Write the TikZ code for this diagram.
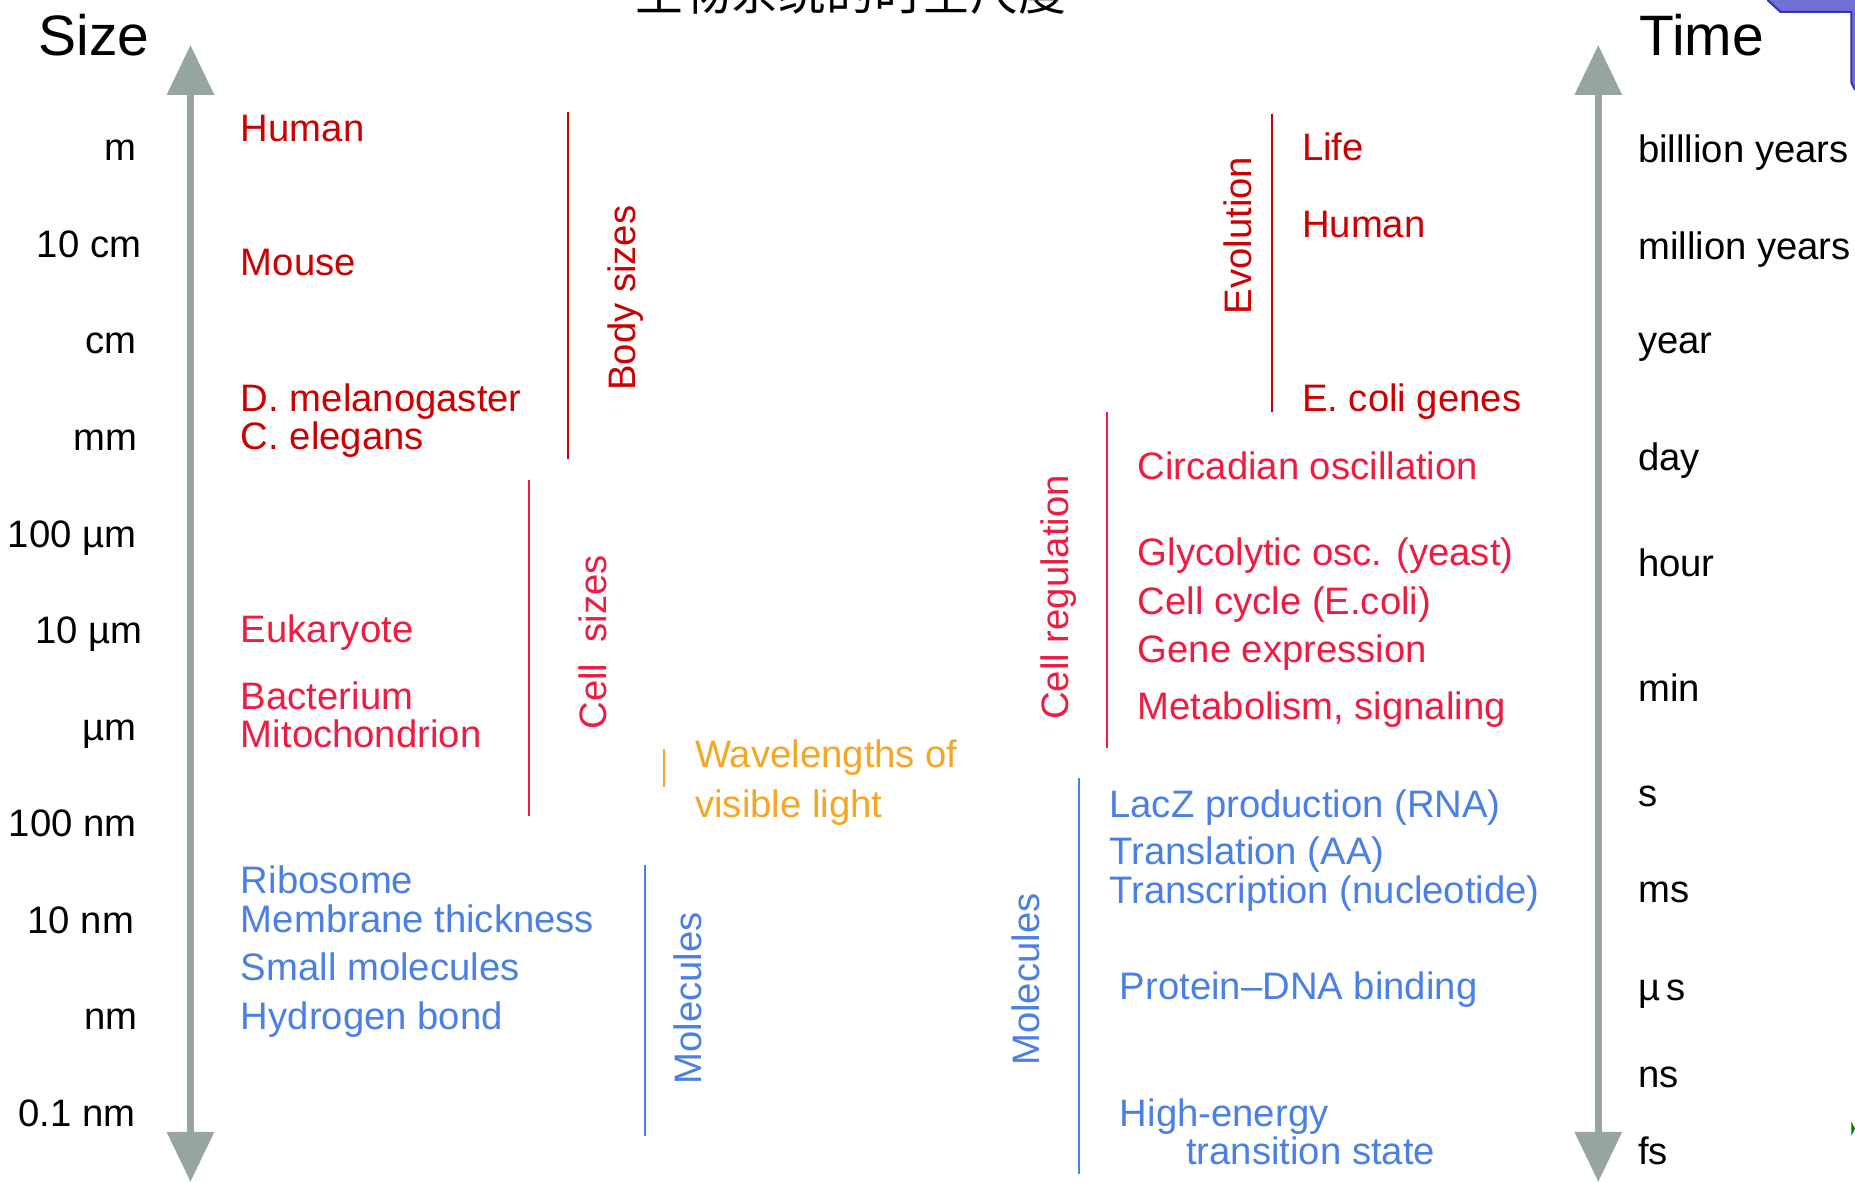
\documentclass[tikz,border=0pt]{standalone}
\usepackage{fontspec}
\setmainfont{Liberation Sans}
\newfontfamily\cjkfont{Noto Sans CJK SC}
\usetikzlibrary{arrows.meta}
\definecolor{bodyred}{RGB}{204,0,0}
\definecolor{cellred}{RGB}{238,28,64}
\definecolor{molblue}{RGB}{74,128,230}
\definecolor{lightorange}{RGB}{245,166,35}
\definecolor{axisgray}{RGB}{150,165,162}
\definecolor{cornerpurple}{RGB}{112,112,214}
\definecolor{cornerblue}{RGB}{50,50,190}

\begin{document}
\begin{tikzpicture}[x=0.01cm, y=0.01cm]
	\tikzstyle{every node}+=[inner sep=0pt, font=\fontsize{9.2}{11}\selectfont]
	\tikzstyle{item}=[anchor=base west]
	\tikzstyle{ticklabel}=[anchor=base east]
	\tikzstyle{grouplabel}=[anchor=base, rotate=90]
	\tikzstyle{bigtitle}=[anchor=base west, font=\fontsize{13.7}{16}\selectfont]
	\tikzstyle{scalearrow}=[draw=axisgray, line width=1.7pt, {Triangle[length=12pt,width=11pt]}-{Triangle[length=12pt,width=11pt]}]
	\tikzstyle{groupbar}=[line width=0.45pt]
	\useasboundingbox (0,0) rectangle (1568,-999);
	% title, cut by the page edge
	\draw (719,-9) node[anchor=base, font=\cjkfont\fontsize{11.5}{12}\selectfont] (title) {生物系统的时空尺度};
	% corner marks of the slide
	\fill[cornerpurple] (1494,0) -- (1505,-10) -- (1565,-10) -- (1565,-70) -- (1568,-76) -- (1568,0) -- cycle;
	\draw[cornerblue, line width=0.5pt] (1494,0) -- (1505,-10) -- (1565,-10) -- (1565,-70) -- (1568,-76);
	\fill[green!50!black] (1565,-948) -- (1568,-954) -- (1565,-960) -- cycle;
	% size axis
	\coordinate (sizetop) at (161,-38);
	\coordinate (sizebot) at (161,-999);
	\draw[scalearrow] (sizebot) -- (sizetop);
	\draw (32,-47) node[bigtitle] (size) {Size};
	\draw (116,-136) node[ticklabel] (sm) {m};
	\draw (120,-217.6) node[ticklabel] (s10cm) {10 cm};
	\draw (116,-299.2) node[ticklabel] (scm) {cm};
	\draw (117,-380.8) node[ticklabel] (smm) {mm};
	\draw (116,-462.4) node[ticklabel] (s100um) {100 µm};
	\draw (121,-544) node[ticklabel] (s10um) {10 µm};
	\draw (116,-625.6) node[ticklabel] (sum) {µm};
	\draw (116,-707.2) node[ticklabel] (s100nm) {100 nm};
	\draw (114,-788.8) node[ticklabel] (s10nm) {10 nm};
	\draw (117,-870.4) node[ticklabel] (snm) {nm};
	\draw (115,-952) node[ticklabel] (s01nm) {0.1 nm};
	% time axis
	\coordinate (timetop) at (1351,-38);
	\coordinate (timebot) at (1351,-999);
	\draw[scalearrow] (timebot) -- (timetop);
	\draw (1385,-47) node[bigtitle] (time) {Time};
	\draw (1384,-137) node[item] (tbil) {billlion years};
	\draw (1384,-219) node[item] (tmil) {million years};
	\draw (1384,-299) node[item] (tyear) {year};
	\draw (1384,-398) node[item] (tday) {day};
	\draw (1384,-487) node[item] (thour) {hour};
	\draw (1384,-593) node[item] (tmin) {min};
	\draw (1384,-682) node[item] (ts) {s};
	\draw (1384,-763) node[item] (tms) {ms};
	\draw (1384,-846) node[item] (tus) {µ\,s};
	\draw (1384,-919) node[item] (tns) {ns};
	\draw (1384,-984) node[item] (tfs) {fs};
	% body sizes
	\draw (203,-119.5) node[item, text=bodyred] (human) {Human};
	\draw (203,-233) node[item, text=bodyred] (mouse) {Mouse};
	\draw (203,-348) node[item, text=bodyred] (fly) {D. melanogaster};
	\draw (203,-380) node[item, text=bodyred] (worm) {C. elegans};
	\coordinate (bodytop) at (480,-95);
	\coordinate (bodybot) at (480,-388);
	\draw[groupbar, bodyred] (bodytop) -- (bodybot);
	\draw (537,-252) node[grouplabel, text=bodyred] (body) {Body sizes};
	% cell sizes
	\draw (203,-543) node[item, text=cellred] (euk) {Eukaryote};
	\draw (203,-600) node[item, text=cellred] (bact) {Bacterium};
	\draw (203,-632) node[item, text=cellred] (mito) {Mitochondrion};
	\coordinate (celltop) at (447,-406);
	\coordinate (cellbot) at (447,-690);
	\draw[groupbar, cellred] (celltop) -- (cellbot);
	\draw (513,-543) node[grouplabel, text=cellred] (cell) {Cell\ \ sizes};
	% visible light
	\coordinate (lighttop) at (561,-633);
	\coordinate (lightbot) at (561,-665);
	\draw[groupbar, lightorange] (lighttop) -- (lightbot);
	\draw (587,-649) node[item, text=lightorange] (wave) {Wavelengths of};
	\draw (587,-691) node[item, text=lightorange] (vis) {visible light};
	% molecules, size side
	\draw (203,-755) node[item, text=molblue] (ribo) {Ribosome};
	\draw (203,-788) node[item, text=molblue] (memb) {Membrane thickness};
	\draw (203,-829) node[item, text=molblue] (small) {Small molecules};
	\draw (203,-870) node[item, text=molblue] (hbond) {Hydrogen bond};
	\coordinate (moltop) at (545,-731);
	\coordinate (molbot) at (545,-960);
	\draw[groupbar, molblue] (moltop) -- (molbot);
	\draw (593,-844) node[grouplabel, text=molblue] (mol) {Molecules};
	% evolution
	\draw (1100,-136) node[item, text=bodyred] (life) {Life};
	\draw (1100,-201) node[item, text=bodyred] (humant) {Human};
	\draw (1100,-348) node[item, text=bodyred] (ecoli) {E. coli genes};
	\coordinate (evotop) at (1075,-96);
	\coordinate (evobot) at (1075,-348);
	\draw[groupbar, bodyred] (evotop) -- (evobot);
	\draw (1058,-199) node[grouplabel, text=bodyred] (evo) {Evolution};
	% cell regulation
	\draw (961,-405) node[item, text=cellred] (circ) {Circadian oscillation};
	\draw (961,-478) node[item, text=cellred] (glyc) {Glycolytic osc. (yeast)};
	\draw (961,-519) node[item, text=cellred] (cycle) {Cell cycle (E.coli)};
	\draw (961,-560) node[item, text=cellred] (gene) {Gene expression};
	\draw (961,-608) node[item, text=cellred] (metab) {Metabolism, signaling};
	\coordinate (regtop) at (936,-348);
	\coordinate (regbot) at (936,-632);
	\draw[groupbar, cellred] (regtop) -- (regbot);
	\draw (903,-505) node[grouplabel, text=cellred] (reg) {Cell regulation};
	% molecules, time side
	\draw (937,-691) node[item, text=molblue] (lacz) {LacZ production (RNA)};
	\draw (937,-731) node[item, text=molblue] (transl) {Translation (AA)};
	\draw (937,-764) node[item, text=molblue] (transc) {Transcription (nucleotide)};
	\draw (946,-845) node[item, text=molblue] (bind) {Protein--DNA binding};
	\draw (946,-952) node[item, text=molblue] (high) {High-energy};
	\draw (1002,-984) node[item, text=molblue] (trans) {transition state};
	\coordinate (moltimetop) at (912,-658);
	\coordinate (moltimebot) at (912,-992);
	\draw[groupbar, molblue] (moltimetop) -- (moltimebot);
	\draw (879,-828) node[grouplabel, text=molblue] (moltime) {Molecules};
\end{tikzpicture}
\end{document}
